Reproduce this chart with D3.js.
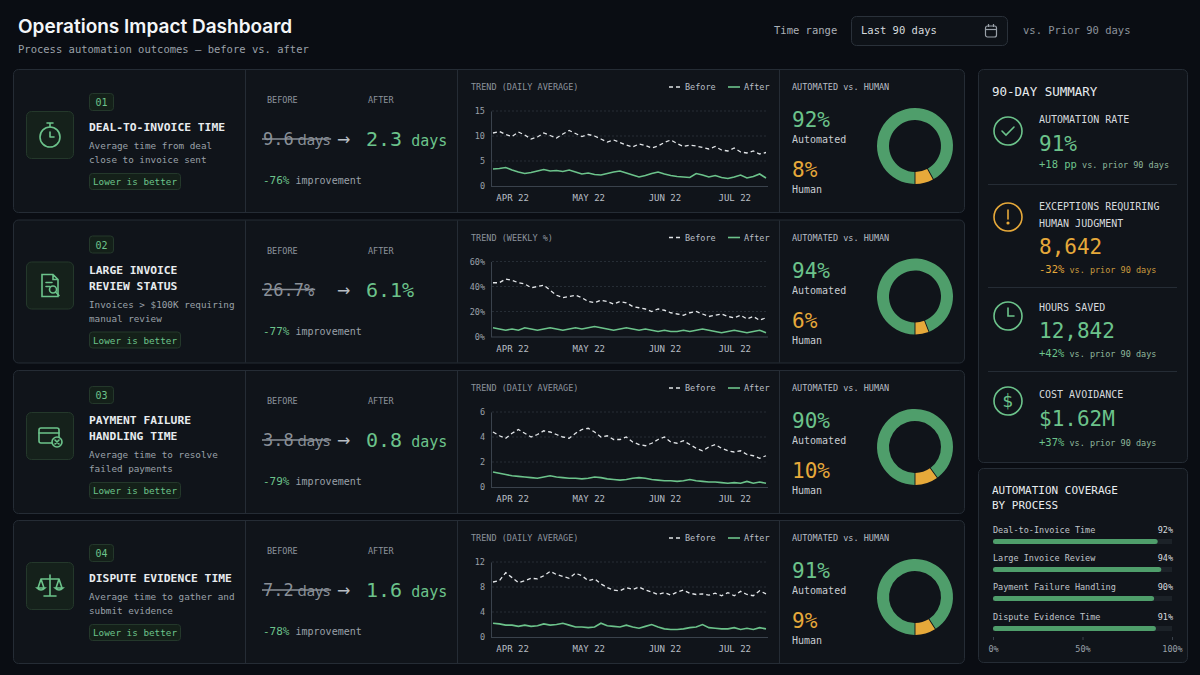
<!DOCTYPE html>
<html><head><meta charset="utf-8">
<script src="https://cdn.jsdelivr.net/npm/d3@7"></script>
<style>body{margin:0;background:#0a0d13;}svg{display:block}</style>
</head><body>
<svg id="c" width="1200" height="675"></svg>
<script>
const processes = ["Deal-to-Invoice Time","Large Invoice Review","Payment Failure Handling","Dispute Evidence Time"];
const titles = [["DEAL-TO-INVOICE TIME"],["LARGE INVOICE","REVIEW STATUS"],["PAYMENT FAILURE","HANDLING TIME"],["DISPUTE EVIDENCE TIME"]];
const descs = [["Average time from deal","close to invoice sent"],["Invoices > $100K requiring","manual review"],["Average time to resolve","failed payments"],["Average time to gather and","submit evidence"]];
const beforeVals = ["9.6","26.7%","3.8","7.2"];
const afterVals = ["2.3","6.1%","0.8","1.6"];
const units = ["days","","days","days"];
const improvements = ["-76%","-77%","-79%","-78%"];
const trendTitles = ["TREND (DAILY AVERAGE)","TREND (WEEKLY %)","TREND (DAILY AVERAGE)","TREND (DAILY AVERAGE)"];
const yMax = [15,60,6,12];
const yTicks = [[0,5,10,15],[0,20,40,60],[0,2,4,6],[0,4,8,12]];
const automated = [92,94,90,91];
const coverage = [92,94,90,91];
const monthLabels = ["APR 22","MAY 22","JUN 22","JUL 22"];
const monthIdx = [3,15,27,38];
const before1 = [10.6,10.9,10.3,9.9,10.8,10.2,9.4,9.8,10.6,10.1,9.6,10.4,11.1,10.5,9.9,10.3,10.0,9.4,8.8,9.2,8.7,8.2,7.8,8.4,8.1,7.6,8.0,8.7,9.2,8.5,7.9,8.2,8.0,7.7,7.4,7.9,7.2,7.0,7.6,6.8,6.6,7.0,6.4,6.7];
const after1 = [3.4,3.5,3.7,3.2,2.8,2.5,2.7,3.0,3.3,3.0,3.1,2.9,3.2,2.8,2.4,2.6,2.3,2.2,2.5,2.8,3.0,2.6,2.2,1.8,2.1,2.5,2.8,2.4,2.1,1.9,1.8,1.7,2.5,2.2,1.8,2.1,1.7,1.5,1.8,2.2,1.6,1.9,2.4,1.6];
const before2 = [43,43,46,45,43,42,39,40,41,37,33,31,32,33,31,28,27,29,28,26,28,27,24,23,22,20,22,21,19,18,17,19,20,18,16,17,18,16,15,17,14,16,13,15];
const after2 = [7,6,5,6,5,7,6,5,6,7,6,5,6,7,6,7,8,7,6,5,6,7,6,5,6,5,4,5,4,4,5,4,5,6,5,4,3,4,5,4,3,4,5,3];
const before3 = [4.4,4.1,3.9,4.3,4.6,4.3,4.0,4.2,4.5,4.4,4.2,4.0,3.9,4.3,4.6,4.7,4.4,4.0,4.1,3.8,3.8,4.0,3.6,3.4,3.3,3.5,3.8,4.0,3.6,3.5,3.7,3.4,3.1,2.9,3.2,3.4,3.1,2.9,2.8,2.9,2.6,2.5,2.3,2.5];
const after3 = [1.2,1.1,1.0,0.9,0.85,0.8,0.75,0.7,0.8,0.9,0.8,0.75,0.7,0.7,0.65,0.7,0.8,0.75,0.65,0.6,0.55,0.6,0.7,0.75,0.7,0.6,0.55,0.5,0.5,0.45,0.5,0.6,0.5,0.45,0.4,0.4,0.35,0.3,0.35,0.3,0.45,0.3,0.4,0.3];
const before4 = [8.8,9.0,10.3,9.5,8.7,9.0,9.4,9.3,9.8,10.5,10.0,9.7,9.4,10.2,9.8,9.0,9.3,8.5,7.9,7.5,7.4,7.9,7.6,8.0,7.5,7.2,6.8,7.1,6.7,7.2,7.5,7.0,6.8,6.9,6.7,7.0,6.6,7.1,6.6,7.3,6.8,6.6,7.4,6.9];
const after4 = [2.2,2.1,1.9,1.9,1.7,1.9,1.7,1.8,2.1,1.9,2.0,2.2,1.9,1.6,1.6,1.5,1.6,2.2,1.8,1.7,1.6,1.9,1.6,1.4,1.7,2.0,1.6,1.3,1.2,1.2,1.3,1.5,1.6,2.0,1.5,1.4,1.3,1.3,1.5,1.2,1.4,1.2,1.5,1.3];
const beforeSeries=[before1,before2,before3,before4], afterSeries=[after1,after2,after3,after4];
const summaryLabels=[["AUTOMATION RATE"],["EXCEPTIONS REQUIRING","HUMAN JUDGMENT"],["HOURS SAVED"],["COST AVOIDANCE"]];
const summaryValues=["91%","8,642","12,842","$1.62M"];
const summaryDeltas=["+18 pp","-32%","+42%","+37%"];

const MONO="'DejaVu Sans Mono','Liberation Mono',monospace";
const GREEN="#6cc38b", RING="#4f9e6b", ORANGE="#e6a93a", GREY="#8c939c", WHITE="#e8ecef", BORDER="#252c35", CARD="#10141a";
const svg=d3.select("#c");
svg.append("rect").attr("width",1200).attr("height",675).attr("fill","#0a0d13");
function T(g,x,y,s,o={}){const t=g.append("text").attr("x",x).attr("y",y).text(s).attr("font-family",o.ff||MONO).attr("font-size",o.fs||10).attr("fill",o.c||GREY);
 if(o.fw)t.attr("font-weight",o.fw); if(o.a)t.attr("text-anchor",o.a); if(o.ls)t.attr("letter-spacing",o.ls); return t;}

// header
T(svg,18,33,"Operations Impact Dashboard",{ff:"Inter,'Noto Sans',sans-serif",fs:19,fw:600,c:"#f4f6f8"});
T(svg,18,53,"Process automation outcomes — before vs. after",{fs:10.5,c:"#9aa1a9"});
T(svg,774,34,"Time range",{fs:10.5,c:"#aab0b7"});
svg.append("rect").attr("x",851.5).attr("y",16.5).attr("width",156).attr("height",29).attr("rx",5).attr("fill","#0e1218").attr("stroke","#2a313a");
T(svg,861,34,"Last 90 days",{fs:10.5,c:"#d6dade"});
const cal=svg.append("g").attr("transform","translate(985,24)").attr("fill","none").attr("stroke","#9aa1a9").attr("stroke-width",1.2);
cal.append("rect").attr("x",0.5).attr("y",2).attr("width",11).attr("height",11).attr("rx",2);
cal.append("line").attr("x1",0.5).attr("x2",11.5).attr("y1",5.5).attr("y2",5.5);
cal.append("line").attr("x1",3.5).attr("x2",3.5).attr("y1",0).attr("y2",3);cal.append("line").attr("x1",8.5).attr("x2",8.5).attr("y1",0).attr("y2",3);
T(svg,1023,34,"vs. Prior 90 days",{fs:10.5,c:"#8c939c"});

function icon(g,i){const s=g.append("g").attr("fill","none").attr("stroke",GREEN).attr("stroke-width",1.6).attr("stroke-linecap","round");
 if(i===0){s.append("circle").attr("r",10).attr("cy",2);s.append("path").attr("d","M-3,-12H3M0,-12V-8M0,2V-3M0,2H4");}
 if(i===1){s.append("path").attr("d","M-8,-11H3L8,-6V11H-8Z M3,-11V-6H8 M-4,-3H2 M-4,1H0");s.append("circle").attr("cx",3).attr("cy",4).attr("r",3.5);s.append("path").attr("d","M5.5,6.5L9,10");}
 if(i===2){s.append("rect").attr("x",-11).attr("y",-8).attr("width",20).attr("height",15).attr("rx",2);s.append("path").attr("d","M-11,-3H9");s.append("circle").attr("cx",7).attr("cy",6).attr("r",5).attr("fill","#17261d");s.append("path").attr("d","M5,4L9,8M9,4L5,8");}
 if(i===3){s.append("path").attr("d","M0,-11V10M-6,10H6M-9,-7H9M-9,-7L-12,2M-9,-7L-6,2M9,-7L6,2M9,-7L12,2M-13,2Q-9,6,-5,2ZM5,2Q9,6,13,2Z");}
}

const rowTop=[69,219.5,370,520], H=143;
const px=d3.scaleLinear().domain([0,43]).range([493,766]);
rowTop.forEach((top,i)=>{
 const g=svg.append("g");
 g.append("rect").attr("x",13.5).attr("y",top+0.5).attr("width",951).attr("height",H).attr("rx",5).attr("fill",CARD).attr("stroke",BORDER);
 [245.5,457.5,779.5].forEach(x=>g.append("line").attr("x1",x).attr("x2",x).attr("y1",top+1).attr("y2",top+H).attr("stroke",BORDER));
 const two=titles[i].length===2, o=two?-8:0;
 const ib=g.append("g").attr("transform",`translate(50,${top+66})`);
 ib.append("rect").attr("x",-23.5).attr("y",-23.5).attr("width",47).attr("height",47).attr("rx",5).attr("fill","#15211b").attr("stroke","#24382b");
 icon(ib,i);
 g.append("rect").attr("x",89.5).attr("y",top+o+24.5).attr("width",24).attr("height",17).attr("rx",3).attr("fill","#142019").attr("stroke","#24382b");
 T(g,101.5,top+o+37,"0"+(i+1),{fs:10,c:GREEN,a:"middle"});
 titles[i].forEach((t,k)=>T(g,89,top+o+62+k*16,t,{fs:11.3,fw:"bold",c:WHITE}));
 const dy=top+o+80+(two?16:0);
 descs[i].forEach((t,k)=>T(g,89,dy+k*14,t,{fs:9.3,c:"#9aa1a9"}));
 const by=dy+24;
 g.append("rect").attr("x",89.5).attr("y",by+0.5).attr("width",91).attr("height",16).attr("rx",3).attr("fill","#142019").attr("stroke","#24382b");
 T(g,135,by+12,"Lower is better",{fs:9.3,c:GREEN,a:"middle"});
 T(g,267,top+34,"BEFORE",{fs:8.5,c:GREY});T(g,368,top+34,"AFTER",{fs:8.5,c:GREY});
 const bt=g.append("text").attr("x",263).attr("y",top+76).attr("font-family",MONO).attr("fill","#8a9098");
 bt.append("tspan").attr("font-size",17).text(beforeVals[i]);
 if(units[i]) bt.append("tspan").attr("font-size",15).attr("font-family","'Noto Sans',sans-serif").text(" "+units[i]);
 const bw=bt.node().getComputedTextLength();
 g.append("line").attr("x1",262).attr("x2",264+bw).attr("y1",top+70).attr("y2",top+70).attr("stroke","#8a9098").attr("stroke-width",1.3);
 T(g,337,top+76,"→",{fs:16,c:"#b8bec5",ff:"'DejaVu Sans',sans-serif"});
 const at=g.append("text").attr("x",366).attr("y",top+77).attr("font-family",MONO).attr("fill",GREEN);
 at.append("tspan").attr("font-size",20).text(afterVals[i]);
 if(units[i]) at.append("tspan").attr("font-size",15).text(" "+units[i]);
 const it=g.append("text").attr("x",263).attr("y",top+115).attr("font-family",MONO);
 it.append("tspan").attr("font-size",11).attr("fill",GREEN).text(improvements[i]);
 it.append("tspan").attr("font-size",10).attr("fill","#9aa1a9").text(" improvement");
 T(g,471,top+21,trendTitles[i],{fs:8.5,c:GREY});
 g.append("line").attr("x1",669).attr("x2",681).attr("y1",top+18).attr("y2",top+18).attr("stroke","#e0e3e6").attr("stroke-width",1.4).attr("stroke-dasharray","4,3");
 T(g,685,top+21,"Before",{fs:8.5,c:"#b8bec5"});
 g.append("line").attr("x1",728).attr("x2",740).attr("y1",top+18).attr("y2",top+18).attr("stroke",GREEN).attr("stroke-width",1.6);
 T(g,744,top+21,"After",{fs:8.5,c:"#b8bec5"});
 const y=d3.scaleLinear().domain([0,yMax[i]]).range([top+117,top+42]);
 const ya=g.append("g").attr("transform","translate(491,0)").call(d3.axisLeft(y).tickValues(yTicks[i]).tickSize(0).tickPadding(6).tickFormat(d=>i===1?d+"%":d));
 ya.select(".domain").attr("stroke","#3a424c");
 ya.selectAll("text").attr("font-family",MONO).attr("font-size",8.5).attr("fill","#9aa1a9");
 yTicks[i].slice(1).forEach(t=>g.append("line").attr("x1",492).attr("x2",768).attr("y1",y(t)).attr("y2",y(t)).attr("stroke","#262d35").attr("stroke-dasharray","2,2"));
 g.append("line").attr("x1",491).attr("x2",768).attr("y1",top+117.5).attr("y2",top+117.5).attr("stroke","#3a424c");
 const xa=g.append("g").attr("transform",`translate(0,${top+118})`).call(d3.axisBottom(px).tickValues(monthIdx).tickSize(0).tickPadding(8).tickFormat((d,k)=>monthLabels[k]));
 xa.select(".domain").remove();
 xa.selectAll("text").attr("font-family",MONO).attr("font-size",9).attr("fill","#b8bec5");
 const line=d3.line().x((d,k)=>px(k)).y(d=>y(d));
 g.append("path").attr("d",line(beforeSeries[i])).attr("fill","none").attr("stroke","#e4e7ea").attr("stroke-width",1.3).attr("stroke-dasharray","4,3");
 g.append("path").attr("d",line(afterSeries[i])).attr("fill","none").attr("stroke",GREEN).attr("stroke-width",1.6);
 T(g,792,top+21,"AUTOMATED vs. HUMAN",{fs:8.5,c:"#b8bec5"});
 T(g,792,top+58,automated[i]+"%",{fs:21,c:GREEN});
 T(g,792,top+74,"Automated",{fs:10,c:"#c8cdd2"});
 T(g,792,top+108,(100-automated[i])+"%",{fs:21,c:ORANGE});
 T(g,792,top+124,"Human",{fs:10,c:"#c8cdd2"});
 const hum=(100-automated[i])/100*2*Math.PI;
 const pie=d3.pie().sort(null).value(d=>d).startAngle(Math.PI-hum-(automated[i]/100)*2*Math.PI).endAngle(Math.PI);
 const arc=d3.arc().innerRadius(26).outerRadius(38).padAngle(0.02);
 const dg=g.append("g").attr("transform",`translate(915,${top+77})`);
 dg.selectAll("path").data(pie([automated[i],100-automated[i]])).join("path").attr("d",arc).attr("fill",(d,k)=>k?ORANGE:RING);
});

const sp=svg.append("g");
sp.append("rect").attr("x",978.5).attr("y",69.5).attr("width",209).attr("height",393).attr("rx",5).attr("fill",CARD).attr("stroke",BORDER);
T(sp,992,96,"90-DAY SUMMARY",{fs:12.5,c:WHITE});
const iy=[131,217,316,401], ly=[123,210,311,398], vy=[151,254,338,426], dyy=[168,273,357,446];
[184,287,371].forEach(s=>sp.append("line").attr("x1",988).attr("x2",1177).attr("y1",s+.5).attr("y2",s+.5).attr("stroke","#252c35"));
summaryLabels.forEach((lab,k)=>{
 const col=k===1?ORANGE:GREEN;
 const ic=sp.append("g").attr("transform",`translate(1008,${iy[k]})`).attr("fill","none").attr("stroke",col).attr("stroke-width",1.6).attr("stroke-linecap","round");
 ic.append("circle").attr("r",14);
 if(k===0) ic.append("path").attr("d","M-6,0L-2,4L6,-4");
 if(k===1){ic.append("path").attr("d","M0,-7V2");ic.append("circle").attr("cy",6).attr("r",0.8).attr("fill",col);}
 if(k===2) ic.append("path").attr("d","M0,-8V0H6");
 if(k===3) T(ic,0,6,"$",{fs:17,c:col,a:"middle",ff:"'DejaVu Sans',sans-serif"}).attr("stroke","none");
 lab.forEach((l,j)=>T(sp,1039,ly[k]+j*17,l,{fs:10,c:"#d6dade"}));
 T(sp,1039,vy[k],summaryValues[k],{fs:21,c:col});
 const d=sp.append("text").attr("x",1039).attr("y",dyy[k]).attr("font-family",MONO);
 d.append("tspan").attr("font-size",10.5).attr("fill",col).text(summaryDeltas[k]);
 d.append("tspan").attr("font-size",8.5).attr("fill",k===1?"#c99a3e":"#8fb79c").text(" vs. prior 90 days");
});

const cp=svg.append("g");
cp.append("rect").attr("x",978.5).attr("y",468.5).attr("width",209).attr("height",194).attr("rx",5).attr("fill",CARD).attr("stroke",BORDER);
T(cp,992,494,"AUTOMATION COVERAGE",{fs:11,c:WHITE});T(cp,992,509,"BY PROCESS",{fs:11,c:WHITE});
const cx=d3.scaleLinear().domain([0,100]).range([993,1172]);
const cyL=[533,561,590,620];
processes.forEach((p,k)=>{
 T(cp,993,cyL[k],p,{fs:8.5,c:"#c0c5ca"});
 T(cp,1173,cyL[k],coverage[k]+"%",{fs:8.5,c:"#d6dade",a:"end"});
 cp.append("rect").attr("x",cx(0)).attr("y",cyL[k]+6).attr("width",cx(100)-cx(0)).attr("height",5).attr("fill","#1c2228");
 cp.append("rect").attr("x",cx(0)).attr("y",cyL[k]+6).attr("width",cx(coverage[k])-cx(0)).attr("height",5).attr("rx",2.5).attr("fill",RING);
});
const ca=cp.append("g").attr("transform","translate(0,637)").call(d3.axisBottom(cx).tickValues([0,50,100]).tickSize(3).tickPadding(6).tickFormat(d=>d+"%"));
ca.select(".domain").remove();ca.selectAll("line").attr("stroke","#3a424c");
ca.selectAll("text").attr("font-family",MONO).attr("font-size",8.5).attr("fill","#9aa1a9");
</script></body></html>
